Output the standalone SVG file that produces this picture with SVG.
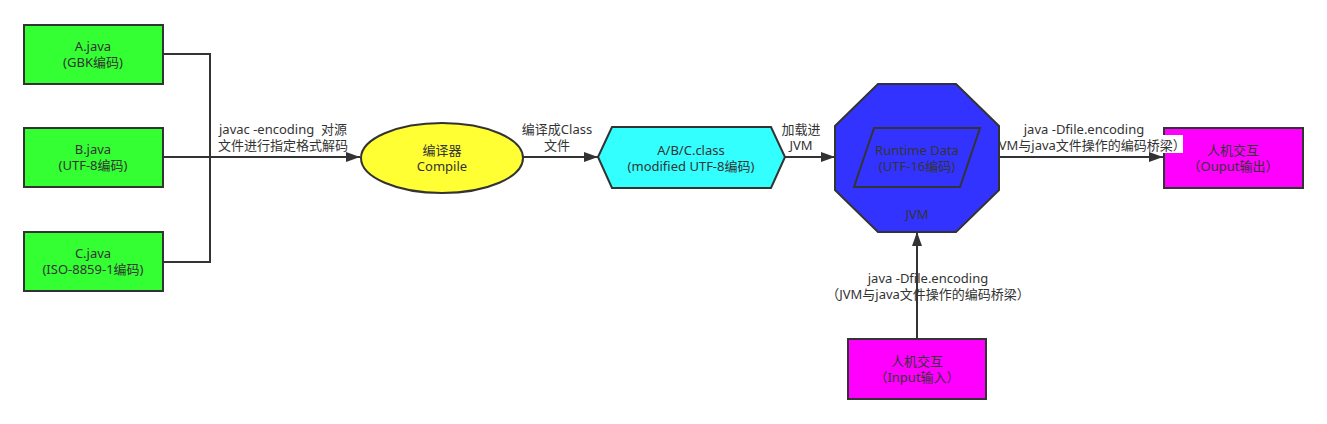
<svg xmlns="http://www.w3.org/2000/svg" width="1327" height="424" viewBox="0 0 1327 424">
<style>
text{font-family:"Noto Sans","Noto Sans CJK SC",sans-serif;font-size:13px;fill:#333;text-anchor:middle}
.n{stroke:#333;stroke-width:2}
.e{fill:none;stroke:#333;stroke-width:2}
</style>
<defs>
<marker id="ah" viewBox="0 0 14 10" refX="14" refY="5" markerWidth="14" markerHeight="10" markerUnits="userSpaceOnUse" orient="auto">
<path d="M0,0 L14,5 L0,10 Z" fill="#333"/>
</marker>
</defs>
<rect width="1327" height="424" fill="#fff"/>
<g id="output">
<rect class="n" x="1164" y="128" width="139" height="60" fill="#FF00FF"/>
<text x="1233" y="155">人机交互</text>
<text x="1233" y="171">（Ouput输出）</text>
</g>
<g id="edges">
<text x="283" y="134" xml:space="preserve">javac -encoding  对源</text>
<text x="283" y="150">文件进行指定格式解码</text>
<text x="557" y="134">编译成Class</text>
<text x="557" y="150">文件</text>
<text x="801" y="134">加载进</text>
<text x="801" y="150">JVM</text>
<rect x="987" y="135" width="196" height="18" fill="#fff"/>
<text x="1084" y="134">java -Dfile.encoding</text>
<text x="1084" y="150">（JVM与java文件操作的编码桥梁）</text>
<text x="928" y="283">java -Dfile.encoding</text>
<text x="928" y="299">（JVM与java文件操作的编码桥梁）</text>
<path class="e" d="M163,54 H210 V157"/>
<path class="e" d="M163,262 H210 V157"/>
<path class="e" d="M163,157 H360" marker-end="url(#ah)"/>
<path class="e" d="M523,157 H598" marker-end="url(#ah)"/>
<path class="e" d="M785,157 H835" marker-end="url(#ah)"/>
<path class="e" d="M999,157 H1163" marker-end="url(#ah)"/>
<path class="e" d="M917,339 V232" marker-end="url(#ah)"/>
</g>
<g id="a-java">
<rect class="n" x="24" y="25" width="139" height="59" fill="#33FF33"/>
<text x="93" y="51">A.java</text>
<text x="93" y="67">(GBK编码)</text>
</g>
<g id="b-java">
<rect class="n" x="24" y="128" width="139" height="59" fill="#33FF33"/>
<text x="93" y="154">B.java</text>
<text x="93" y="170">(UTF-8编码)</text>
</g>
<g id="c-java">
<rect class="n" x="24" y="232" width="139" height="59" fill="#33FF33"/>
<text x="93" y="258">C.java</text>
<text x="93" y="274">(ISO-8859-1编码)</text>
</g>
<g id="compiler">
<ellipse class="n" cx="442" cy="158" rx="81" ry="35" fill="#FFFF33"/>
<text x="442" y="155">编译器</text>
<text x="442" y="171">Compile</text>
</g>
<g id="class">
<polygon class="n" points="598,157 612,127 771,127 785,157 771,188 612,188" fill="#33FFFF"/>
<text x="691" y="155">A/B/C.class</text>
<text x="691" y="171">(modified UTF-8编码)</text>
</g>
<g id="jvm">
<polygon class="n" points="878,84 956,84 999,126 999,190 956,232 878,232 835,190 835,126" fill="#3333FF"/>
<polygon class="n" points="874,128 980,128 960,187 854,187" fill="#3333FF"/>
<text x="917" y="155">Runtime Data</text>
<text x="917" y="171">(UTF-16编码)</text>
<text x="917" y="219">JVM</text>
</g>
<g id="input">
<rect class="n" x="848" y="339" width="138" height="60" fill="#FF00FF"/>
<text x="917" y="366">人机交互</text>
<text x="917" y="382">（Input输入）</text>
</g>
</svg>
